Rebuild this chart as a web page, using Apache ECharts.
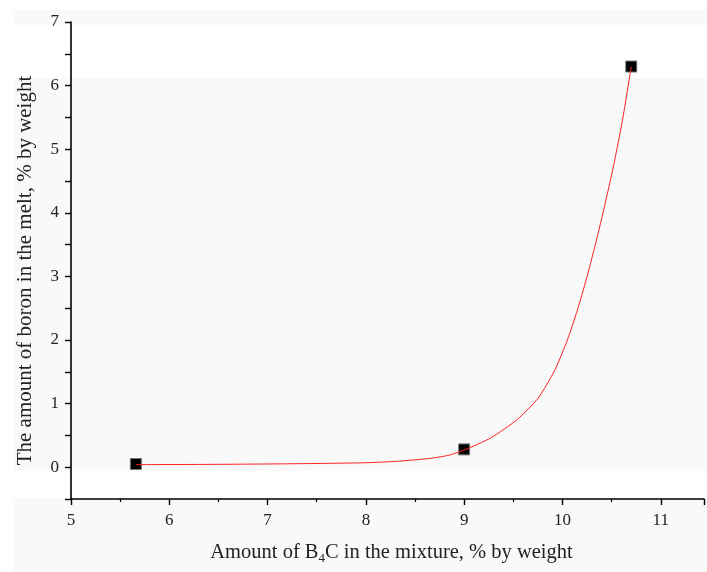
<!DOCTYPE html>
<html>
<head>
<meta charset="utf-8">
<script src="https://cdn.jsdelivr.net/npm/echarts@6/dist/echarts.min.js"></script>
<style>html,body{margin:0;padding:0;background:#fff}#c{width:707px;height:572px}</style>
</head>
<body>
<div id="c"></div>
<script>
// Measured points
const pointX = [5.66, 9.0, 10.7];
const pointY = [0.05, 0.28, 6.3];
// Fitted curve
const curveX = [5.66, 6.5, 7.3, 8.0, 8.33, 8.66, 8.85, 9.0, 9.27, 9.54, 9.75, 9.92, 10.05, 10.15, 10.24, 10.33, 10.42, 10.52, 10.61, 10.70];
const curveY = [0.04, 0.045, 0.055, 0.07, 0.094, 0.14, 0.19, 0.27, 0.46, 0.75, 1.08, 1.52, 2.0, 2.46, 2.94, 3.47, 4.05, 4.74, 5.45, 6.30];
const xName = ['Amount of B', '4', 'C in the mixture, % by weight'];
const yName = 'The amount of boron in the melt, % by weight';

const chart = echarts.init(document.getElementById('c'), null, {renderer: 'canvas'});
const font = '"Liberation Serif", "DejaVu Serif", serif';
const bandColor = '#f9f9f9';
chart.setOption({
  backgroundColor: '#ffffff',
  animation: false,
  graphic: [
    {type: 'rect', z: -100, shape: {x: 13, y: 10, width: 694, height: 15}, style: {fill: bandColor}},
    {type: 'rect', z: -100, shape: {x: 13, y: 78, width: 694, height: 393}, style: {fill: bandColor}},
    {type: 'rect', z: -100, shape: {x: 13, y: 498, width: 694, height: 74}, style: {fill: bandColor}}
  ],
  grid: {left: 71, right: 0, top: 22, bottom: 73, containLabel: false},
  xAxis: {
    type: 'value', min: 5, max: 11.44, interval: 1,
    name: '{a|' + xName[0] + '}{s|' + xName[1] + '}{a|' + xName[2] + '}',
    nameLocation: 'middle', nameGap: 43,
    nameTextStyle: {
      fontFamily: font, fontSize: 20.5, color: '#222', padding: [0, 0, 0, 8],
      rich: {
        a: {fontFamily: font, fontSize: 20.5, color: '#222', verticalAlign: 'top', lineHeight: 23},
        s: {fontFamily: font, fontSize: 13, color: '#222', verticalAlign: 'bottom', lineHeight: 23, padding: [15, 0, 0, 0]}
      }
    },
    axisLine: {show: true, onZero: false, lineStyle: {color: '#000', width: 1.6}},
    axisTick: {show: true, inside: false, length: 6, lineStyle: {color: '#000', width: 1.4}},
    minorTick: {show: true, splitNumber: 2, length: 3, lineStyle: {color: '#000', width: 1.2}},
    axisLabel: {
      fontFamily: font, fontSize: 17, color: '#222', margin: 13,
      formatter: function (v) { return (Math.abs(v - Math.round(v)) < 1e-6) ? String(Math.round(v)) : ''; }
    },
    splitLine: {show: false}
  },
  yAxis: {
    type: 'value', min: -0.5, max: 7, interval: 0.5,
    name: yName,
    nameLocation: 'middle', nameGap: 35,
    nameTextStyle: {fontFamily: font, fontSize: 21, color: '#222', padding: [0, 20, 0, 0]},
    axisLine: {show: true, onZero: false, lineStyle: {color: '#000', width: 1.6}},
    axisTick: {show: true, inside: false, length: 6, lineStyle: {color: '#000', width: 1.4}},
    axisLabel: {
      fontFamily: font, fontSize: 17, color: '#222', margin: 12,
      formatter: function (v) { return (v >= 0 && Math.abs(v - Math.round(v)) < 1e-6) ? String(Math.round(v)) : ''; }
    },
    splitLine: {show: false}
  },
  series: [
    {
      type: 'scatter', symbol: 'rect', symbolSize: 11, z: 3,
      itemStyle: {color: '#000', borderColor: '#777', borderWidth: 1, opacity: 1},
      data: pointX.map((x, i) => [x, pointY[i]])
    },
    {
      type: 'line', showSymbol: false, smooth: 0.2, z: 4,
      lineStyle: {color: '#ff2020', width: 1},
      data: curveX.map((x, i) => [x, curveY[i]])
    }
  ]
});
</script>
</body>
</html>
